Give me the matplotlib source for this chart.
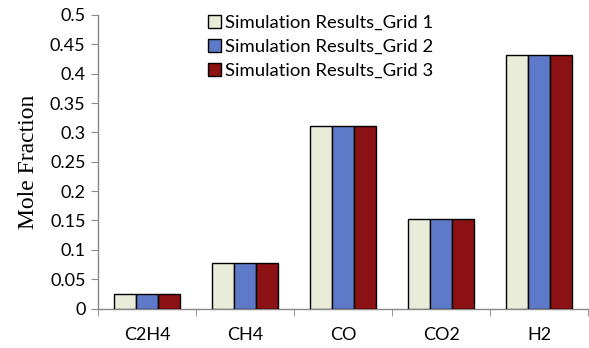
#!/usr/bin/env python
import numpy as np
import matplotlib
matplotlib.use("Agg")
import matplotlib.pyplot as plt
from matplotlib.ticker import FixedLocator

species = ["C2H4", "CH4", "CO", "CO2", "H2"]
grid1 = [0.025, 0.078, 0.311, 0.153, 0.432]
grid2 = [0.025, 0.078, 0.311, 0.153, 0.432]
grid3 = [0.025, 0.078, 0.311, 0.153, 0.432]
series_names = ["Simulation Results_Grid 1",
                "Simulation Results_Grid 2",
                "Simulation Results_Grid 3"]
yticks = [0, 0.05, 0.1, 0.15, 0.2, 0.25, 0.3, 0.35, 0.4, 0.45, 0.5]
colors = ["#E8ECD8", "#5E79C8", "#8B1114"]


def plot_grid_study():
    plt.rcParams['font.family'] = ['Lato', 'DejaVu Sans']
    fig = plt.figure(figsize=(5.89, 3.48), dpi=100)
    ax = fig.add_axes([0.1664, 0.1135, 0.8326, 0.8435])

    ind = np.arange(len(species))
    width = 0.224
    for k, vals in enumerate([grid1, grid2, grid3]):
        ax.bar(ind + (k - 1) * width, vals, width, color=colors[k],
               edgecolor='black', linewidth=1.0, label=series_names[k],
               zorder=3)

    ax.set_xlim(-0.5, len(species) - 0.5)
    ax.set_ylim(0, 0.5)
    ax.set_yticks(yticks)
    ax.set_yticklabels(['%g' % t for t in yticks], fontsize=13)
    ax.set_xticks(ind)
    ax.set_xticklabels(species, fontsize=13)
    ax.xaxis.set_minor_locator(FixedLocator(np.arange(-0.5, len(species), 1.0)))
    ax.tick_params(axis='x', which='major', length=0, pad=13)
    ax.tick_params(axis='x', which='minor', length=5, color='#888888',
                   direction='out')
    ax.tick_params(axis='y', length=5, color='#888888', direction='out',
                   pad=4)

    for side in ['top', 'right']:
        ax.spines[side].set_visible(False)
    for side in ['left', 'bottom']:
        ax.spines[side].set_color('#888888')
        ax.spines[side].set_linewidth(1.0)

    ax.set_ylabel('Mole Fraction', family='Liberation Serif', fontsize=17,
                  labelpad=8)

    ax.legend(loc='upper left', bbox_to_anchor=(0.34, 0.978),
              bbox_transform=fig.transFigure, frameon=False, fontsize=13.3,
              handlelength=0.7, handleheight=0.7, handletextpad=0.25,
              labelspacing=0.42, borderaxespad=0.0)

    plt.savefig('out.png', dpi=100)


if __name__ == "__main__":
    plot_grid_study()
